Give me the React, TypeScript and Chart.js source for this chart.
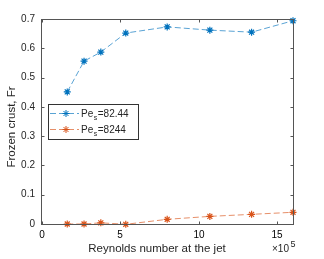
import React, { useEffect, useRef } from 'react';
import { Chart, registerables } from 'chart.js';
Chart.register(...registerables);

const reynolds = [1.61, 2.68, 3.75, 5.34, 7.98, 10.7, 13.36, 16.0];
const frPe8244a = [0.451, 0.556, 0.587, 0.652, 0.673, 0.662, 0.655, 0.694];
const frPe8244b = [0.0, 0.0, 0.004, -0.001, 0.016, 0.026, 0.033, 0.04];
const xTicks = [0, 5, 10, 15];
const xTickLabels = ['0', '5', '10', '15'];
const yTicks = [0, 0.1, 0.2, 0.3, 0.4, 0.5, 0.6, 0.7];
const seriesPe = ['82.44', '8244'];
const xTitle = 'Reynolds number at the jet';
const yTitle = 'Frozen crust, Fr';

const BLUE = '#0072BD';
const ORANGE = '#D95319';
const BLUE_LINE = 'rgba(0,114,189,0.65)';
const ORANGE_LINE = 'rgba(217,83,25,0.65)';
const AXIS = '#555555';
const TEXT = '#262626';
const FONT = '"Liberation Sans", Arial, Helvetica, sans-serif';

function drawStar(ctx: CanvasRenderingContext2D, x: number, y: number, r: number, color: string) {
  ctx.save();
  ctx.strokeStyle = color;
  ctx.lineWidth = 1;
  ctx.setLineDash([]);
  ctx.beginPath();
  ctx.moveTo(x - r, y); ctx.lineTo(x + r, y);
  ctx.moveTo(x, y - r); ctx.lineTo(x, y + r);
  const d = r * Math.SQRT1_2;
  ctx.moveTo(x - d, y - d); ctx.lineTo(x + d, y + d);
  ctx.moveTo(x - d, y + d); ctx.lineTo(x + d, y - d);
  ctx.stroke();
  ctx.restore();
}

const decorPlugin = {
  id: 'decor',
  afterDraw(chart: any) {
    const ctx: CanvasRenderingContext2D = chart.ctx;
    const { left, right, top, bottom } = chart.chartArea;
    const xs = chart.scales.x;
    const ys = chart.scales.y;
    const L = Math.round(left) - 0.5;
    const R = Math.round(right) + 0.5;
    const T = Math.round(top) + 0.5;
    const B = Math.round(bottom) + 0.5;
    ctx.save();
    ctx.strokeStyle = AXIS;
    ctx.lineWidth = 1;
    ctx.setLineDash([]);
    ctx.strokeRect(L, T, R - L, B - T);
    ctx.beginPath();
    const tl = 3;
    for (let i = 0; i < xTicks.length; i++) {
      const px = Math.round(xs.getPixelForValue(xTicks[i])) + 0.5;
      ctx.moveTo(px, B); ctx.lineTo(px, B - tl);
      ctx.moveTo(px, T); ctx.lineTo(px, T + tl);
    }
    for (let i = 0; i < yTicks.length; i++) {
      const py = Math.round(ys.getPixelForValue(yTicks[i])) + 0.5;
      ctx.moveTo(L, py); ctx.lineTo(L + tl, py);
      ctx.moveTo(R, py); ctx.lineTo(R - tl, py);
    }
    ctx.stroke();

    // legend
    const bx = 48.5, by = 104.5, bw = 90, bh = 35;
    ctx.fillStyle = '#ffffff';
    ctx.fillRect(bx, by, bw, bh);
    ctx.strokeStyle = '#333333';
    ctx.strokeRect(bx, by, bw, bh);
    const rows = [
      { y: 113.5, line: BLUE_LINE, mark: BLUE, pe: seriesPe[0] },
      { y: 129.5, line: ORANGE_LINE, mark: ORANGE, pe: seriesPe[1] },
    ];
    rows.forEach((r) => {
      ctx.save();
      ctx.strokeStyle = r.line;
      ctx.lineWidth = 1;
      ctx.setLineDash([6, 3]);
      ctx.beginPath();
      ctx.moveTo(50, r.y); ctx.lineTo(79, r.y);
      ctx.stroke();
      ctx.restore();
      drawStar(ctx, 66, r.y, 3.5, r.mark);
      ctx.fillStyle = TEXT;
      ctx.textBaseline = 'alphabetic';
      ctx.textAlign = 'left';
      ctx.font = `10px ${FONT}`;
      const tx = 81;
      const base = r.y + 3;
      ctx.fillText('Pe', tx, base);
      const w1 = ctx.measureText('Pe').width;
      ctx.font = `7px ${FONT}`;
      ctx.fillText('s', tx + w1 + 0.5, base + 3);
      const w2 = ctx.measureText('s').width;
      ctx.font = `10px ${FONT}`;
      ctx.fillText('=' + r.pe, tx + w1 + w2 + 1, base);
    });

    // axis titles
    ctx.fillStyle = TEXT;
    ctx.font = `11.5px ${FONT}`;
    ctx.textAlign = 'center';
    ctx.textBaseline = 'alphabetic';
    ctx.fillText(xTitle, 157, 252);
    ctx.save();
    ctx.translate(14.5, 127);
    ctx.rotate(-Math.PI / 2);
    ctx.fillText(yTitle, 0, 0);
    ctx.restore();

    // exponent
    ctx.textAlign = 'left';
    ctx.font = `10px ${FONT}`;
    ctx.textBaseline = 'alphabetic';
    ctx.fillText('\u00d710', 272, 252);
    const we = ctx.measureText('\u00d710').width;
    ctx.font = `9px ${FONT}`;
    ctx.fillText('5', 272 + we + 1.5, 247);

    // x tick labels
    ctx.fillStyle = '#000000';
    ctx.font = `10px ${FONT}`;
    ctx.textAlign = 'center';
    ctx.textBaseline = 'alphabetic';
    for (let i = 0; i < xTicks.length; i++) {
      const px = xs.getPixelForValue(xTicks[i]);
      ctx.fillText(xTickLabels[i], Math.round(px), 238);
    }
    ctx.restore();
  },
};

export default function App() {
  const ref = useRef<HTMLCanvasElement | null>(null);
  useEffect(() => {
    document.body.style.margin = '0';
    if (!ref.current) return;
    const mk = (vals: number[]) => reynolds.map((x, i) => ({ x, y: vals[i] }));
    const ds = (label: string, vals: number[], line: string, mark: string) => ({
      label,
      data: mk(vals),
      borderColor: line,
      borderWidth: 1,
      borderDash: [6, 3],
      pointStyle: 'star',
      pointRadius: 3.5,
      pointBorderColor: mark,
      pointBackgroundColor: mark,
      pointBorderWidth: 1.2,
      fill: false,
      tension: 0,
      clip: false,
      showLine: true,
    });
    const chart = new Chart(ref.current, {
      type: 'scatter',
      data: {
        datasets: [
          ds('Pe_s=' + seriesPe[0], frPe8244a, BLUE_LINE, BLUE) as any,
          ds('Pe_s=' + seriesPe[1], frPe8244b, ORANGE_LINE, ORANGE) as any,
        ],
      },
      options: {
        responsive: false,
        animation: false,
        events: [],
        layout: { padding: { left: 0, top: 19, right: 31, bottom: 0 } },
        plugins: { legend: { display: false }, tooltip: { enabled: false } },
        scales: {
          x: {
            type: 'linear',
            min: 0,
            max: 16,
            grid: { display: false, drawTicks: false },
            border: { display: false },
            afterFit: (s: any) => { s.height = 35; },
            ticks: { display: false },
          },
          y: {
            type: 'linear',
            min: 0,
            max: 0.7,
            grid: { display: false, drawTicks: false },
            border: { display: false },
            afterBuildTicks: (s: any) => { s.ticks = yTicks.map((v) => ({ value: v })); },
            afterFit: (s: any) => { s.width = 42; },
            ticks: {
              autoSkip: false,
              padding: 7,
              color: TEXT,
              font: { family: FONT, size: 10 },
              callback: (v: any) => String(Math.round(v * 10) / 10),
            },
          },
        },
      },
      plugins: [decorPlugin],
    });
    return () => chart.destroy();
  }, []);
  return (
    <div style={{ width: 324, height: 259, background: '#fff' }}>
      <canvas ref={ref} width={324} height={259} style={{ display: 'block' }} />
    </div>
  );
}
